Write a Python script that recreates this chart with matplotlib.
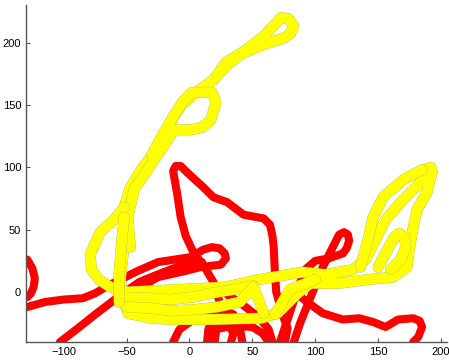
import matplotlib
matplotlib.use("Agg")
import matplotlib.pyplot as plt
import matplotlib.patheffects as pe

plt.rcParams['font.family'] = ['Liberation Sans', 'DejaVu Sans']

# red tracks (x, y)
red_tracks = [
    [(-129, 26), (-125, 19), (-123, 11), (-124, 4), (-126, -1), (-129, -4)],
    [(-129, -12), (-115, -8), (-100, -6), (-85, -5), (-75, -1), (-65, 5), (-55, 10),
     (-41, 17), (-25, 24), (1, 28), (11, 34), (18, 36), (24, 35), (28, 31), (29, 27),
     (25, 22), (9, 20), (-7, 16), (-25, 12), (-39, 4), (-47, -3), (-45, -12),
     (-35, -18), (-20, -22)],
    [(-103, -40), (-90, -30), (-75, -18), (-62, -8), (-50, 1), (-40, 8), (-25, 14),
     (-10, 20), (5, 25)],
    [(-45, 3), (-35, 10), (-20, 16), (-5, 21), (10, 24)],
    [(20, -40), (22, -25), (24, -8), (19, 8), (12, 20), (3, 32), (-3, 45), (-7, 60),
     (-10, 80), (-13, 97), (-11, 101), (-7, 101), (-2, 96), (11, 84), (19, 76),
     (30, 72), (43, 62), (59, 59), (64, 54), (66, 45), (67, 36), (68, 15), (69, 0),
     (74, -18), (78, -29), (76, -40)],
    [(83, -40), (88, -25), (94, -10), (100, 5), (106, 20), (111, 30), (116, 40),
     (119, 46), (123, 48), (126, 46), (127, 41), (125, 35), (122, 31), (111, 27),
     (100, 25), (92, 18), (87, 5), (82, -10), (77, -25), (72, -40)],
    [(86, -2), (95, -9), (106, -17), (122, -22), (135, -21), (146, -24), (156, -28),
     (166, -22), (178, -21), (183, -23), (185, -28), (182, -36), (178, -40)],
    [(-13, -40), (-8, -30), (3, -22), (14, -15), (25, -13), (35, -18), (40, -28),
     (42, -40)],
    [(14, -40), (15, -30), (18, -22)],
    [(33, -40), (35, -33), (30, -25), (20, -20), (5, -18)],
    [(30, -2), (42, -10), (55, -20), (63, -30), (66, -40)],
    [(63, -40), (58, -33), (50, -28), (35, -27), (20, -30)],
    [(-25, -5), (-22, -15), (-15, -22), (0, -24), (10, -20)],
]

# yellow tracks (x, y)
yellow_tracks = [
    [(-53, -4), (-55, 10), (-53, 28), (-51, 50), (-52, 68), (-47, 84), (-37, 100),
     (-25, 116), (-17, 133), (-7, 149), (5, 160), (19, 170), (29, 184), (45, 194),
     (60, 206), (73, 220), (79, 219), (83, 213), (80, 207), (76, 204), (55, 197),
     (40, 190), (29, 181), (19, 170)],
    [(-47, 36), (-49, 60), (-44, 82), (-32, 100), (-20, 118), (-12, 130), (1, 130),
     (10, 132), (17, 138), (21, 152), (18, 160), (11, 160), (2, 160), (-5, 153),
     (-12, 142), (-22, 125), (-30, 110)],
    [(-52, 68), (-60, 58), (-71, 48), (-79, 30), (-78, 18), (-72, 10), (-63, 4),
     (-49, 0), (-30, 1), (-10, 2), (10, 3), (29, 4), (55, 10), (90, 16), (108, 14),
     (130, 18), (140, 26), (148, 42), (156, 58), (170, 74), (182, 86), (189, 99),
     (192, 100), (193, 96), (189, 80), (181, 66), (178, 52), (175, 35), (173, 20),
     (162, 12), (142, 10), (119, 7), (96, 7), (86, -1), (70, -17), (57, -21),
     (17, -22), (-15, -22), (-30, -21), (-49, -17), (-53, -4)],
    [(136, 20), (142, 42), (146, 60), (154, 76), (170, 90), (185, 98)],
    [(150, 20), (158, 35), (163, 44), (167, 47), (171, 44), (172, 36), (168, 26),
     (160, 18)],
    [(-55, -4), (-30, -5), (-15, -6), (3, -4), (17, -1), (35, 2), (51, 5)],
    [(-50, -12), (-30, -13), (-15, -15), (5, -14), (22, -12), (40, -8), (51, 4),
     (59, -17)],
    [(68, -18), (80, 2), (100, 10)],
    [(-56, -8), (-56, 15), (-54, 40), (-52, 60)],
]

fig = plt.figure(figsize=(4.49, 3.63), dpi=100)
ax = fig.add_axes([0.058, 0.058, 0.938, 0.928])

for tr in red_tracks:
    xs = [p[0] for p in tr]
    ys = [p[1] for p in tr]
    ax.plot(xs, ys, color='#ff0000', lw=5.8, solid_capstyle='round',
            solid_joinstyle='round')

for tr in yellow_tracks:
    xs = [p[0] for p in tr]
    ys = [p[1] for p in tr]
    ax.plot(xs, ys, color='#ffff00', lw=7.5, solid_capstyle='round',
            solid_joinstyle='round',
            path_effects=[pe.Stroke(linewidth=7.9, foreground='#a9b070'), pe.Normal()])

ax.set_xlim(-130, 205)
ax.set_ylim(-40, 230)
ax.set_xticks([-100, -50, 0, 50, 100, 150, 200])
ax.set_yticks([0, 50, 100, 150, 200])
ax.spines['top'].set_visible(False)
ax.spines['right'].set_visible(False)
for s in ['left', 'bottom']:
    ax.spines[s].set_color('#555555')
    ax.spines[s].set_linewidth(1.0)
ax.tick_params(direction='in', length=3, colors='#555555', labelcolor='black',
               labelsize=8)

fig.savefig('out.png', dpi=100)
